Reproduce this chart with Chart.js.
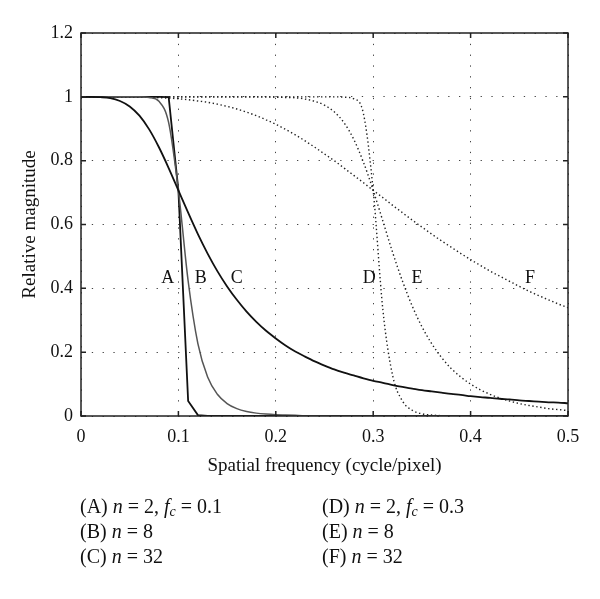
<!DOCTYPE html>
<html>
<head>
<meta charset="utf-8">
<script src="https://cdn.jsdelivr.net/npm/chart.js@4/dist/chart.umd.min.js"></script>
<style>
  html, body { margin: 0; padding: 0; background: #fff; }
  #wrap { position: relative; width: 600px; height: 599px; }
  canvas { position: absolute; left: 0; top: 0; }
  .leg { position: absolute; font-family: "Liberation Serif", "DejaVu Serif", serif; font-size: 20px; line-height: 25px; color: #111; white-space: nowrap; }
  .leg i { font-style: italic; }
  .leg sub { font-size: 14px; vertical-align: -3px; line-height: 0; font-style: italic; }
  .eq { padding: 0 5px; }
</style>
</head>
<body>
<div id="wrap">
  <canvas id="c" width="600" height="599"></canvas>
  <div class="leg" style="left:80px; top:494px;">
    (A) <i>n</i><span class="eq">=</span>2, <i>f</i><sub>c</sub><span class="eq">=</span>0.1<br>
    (B) <i>n</i><span class="eq">=</span>8<br>
    (C) <i>n</i><span class="eq">=</span>32
  </div>
  <div class="leg" style="left:322px; top:494px;">
    (D) <i>n</i><span class="eq">=</span>2, <i>f</i><sub>c</sub><span class="eq">=</span>0.3<br>
    (E) <i>n</i><span class="eq">=</span>8<br>
    (F) <i>n</i><span class="eq">=</span>32
  </div>
</div>
<script>
// Spatial frequency samples (cycle/pixel)
const freq = [0,0.01,0.02,0.03,0.04,0.05,0.06,0.07,0.08,0.09,0.10,0.11,0.12,0.13,0.14,0.15,0.16,0.17,0.18,0.19,0.20,
  0.21,0.22,0.23,0.24,0.25,0.26,0.27,0.28,0.29,0.30,0.31,0.32,0.33,0.34,0.35,0.36,0.37,0.38,0.39,0.40,
  0.41,0.42,0.43,0.44,0.45,0.46,0.47,0.48,0.49,0.50];

// Curve A (sharpest, cutoff 0.1)
const curveA = [1,1,1,1,1,1,1,1,1,0.999,0.707,0.047,0.003,0,0,0,0,0,0,0,0,
  0,0,0,0,0,0,0,0,0,0,0,0,0,0,0,0,0,0,0,0,
  0,0,0,0,0,0,0,0,0,0];
// Curve B (cutoff 0.1)
const curveB = [1,1,1,1,1,1,1,0.998,0.986,0.919,0.707,0.423,0.227,0.122,0.068,0.039,0.023,0.014,0.009,0.006,0.004,
  0.003,0.002,0.001,0.001,0.001,0,0,0,0,0,0,0,0,0,0,0,0,0,0,0,
  0,0,0,0,0,0,0,0,0,0];
// Curve C (smoothest, cutoff 0.1)
const curveC = [1,1,0.999,0.996,0.987,0.970,0.941,0.898,0.842,0.777,0.707,0.637,0.570,0.509,0.454,0.406,0.364,0.327,0.295,0.267,0.243,
  0.221,0.202,0.186,0.171,0.158,0.146,0.136,0.127,0.118,0.110,0.104,0.097,0.091,0.086,0.081,0.077,0.073,0.069,0.066,0.062,
  0.059,0.057,0.054,0.052,0.049,0.047,0.045,0.043,0.042,0.040];
// Curve D (sharpest, cutoff 0.3)
const curveD = [1,1,1,1,1,1,1,1,1,1,1,1,1,1,1,1,1,1,1,1,1,
  1,1,1,1,1,1,0.999,0.994,0.947,0.707,0.331,0.126,0.047,0.018,0.007,0.003,0.001,0,0,0,
  0,0,0,0,0,0,0,0,0,0];
// Curve E (cutoff 0.3)
const curveE = [1,1,1,1,1,1,1,1,1,1,1,1,1,1,1,1,1,1,1,1,0.999,
  0.998,0.997,0.993,0.986,0.974,0.953,0.919,0.867,0.795,0.707,0.610,0.512,0.423,0.345,0.280,0.227,0.184,0.149,0.122,0.100,
  0.082,0.068,0.056,0.047,0.039,0.033,0.028,0.023,0.020,0.017];
// Curve F (smoothest, cutoff 0.3)
const curveF = [1,1,1,1,1,1,0.999,0.999,0.997,0.996,0.994,0.991,0.987,0.983,0.977,0.970,0.962,0.952,0.941,0.928,0.914,
  0.898,0.881,0.862,0.842,0.821,0.800,0.777,0.754,0.731,0.707,0.684,0.660,0.637,0.614,0.592,0.570,0.549,0.529,0.509,0.490,
  0.472,0.454,0.438,0.422,0.406,0.391,0.377,0.364,0.351,0.339];

// In-plot curve labels
const labelText = ["A","B","C","D","E","F"];
const labelX = [0.089, 0.123, 0.160, 0.296, 0.345, 0.461];
const labelY = [0.433, 0.433, 0.433, 0.433, 0.433, 0.433];

const xTitle = "Spatial frequency (cycle/pixel)";
const yTitle = "Relative magnitude";

const FONT = '"Liberation Serif", "DejaVu Serif", serif';

function pts(ys) { return freq.map((x, i) => ({ x: x, y: ys[i] })); }

const solid = (data, color, w, smooth) => ({ data: pts(data), borderColor: color, borderWidth: w, pointRadius: 0,
  cubicInterpolationMode: smooth ? 'monotone' : 'default', tension: 0, fill: false });
const dotted = (data) => ({ data: pts(data), borderColor: '#222', borderWidth: 1.4, borderDash: [1.4, 2.6], pointRadius: 0,
  cubicInterpolationMode: 'monotone', fill: false });

const fmt = v => String(Math.round(v * 10) / 10);

const decor = {
  id: 'decor',
  afterDatasetsDraw(chart) {
    const { ctx, chartArea: a, scales: { x, y } } = chart;
    ctx.save();
    ctx.strokeStyle = '#222';
    ctx.lineWidth = 1.5;
    ctx.setLineDash([]);
    ctx.strokeRect(a.left, a.top, a.right - a.left, a.bottom - a.top);
    const L = 5;
    ctx.beginPath();
    x.ticks.forEach(t => {
      const px = x.getPixelForValue(t.value);
      ctx.moveTo(px, a.bottom); ctx.lineTo(px, a.bottom - L);
      ctx.moveTo(px, a.top); ctx.lineTo(px, a.top + L);
    });
    y.ticks.forEach(t => {
      const py = y.getPixelForValue(t.value);
      ctx.moveTo(a.left, py); ctx.lineTo(a.left + L, py);
      ctx.moveTo(a.right, py); ctx.lineTo(a.right - L, py);
    });
    ctx.stroke();
    // curve labels
    ctx.fillStyle = '#111';
    ctx.font = '18px ' + FONT;
    ctx.textAlign = 'center';
    ctx.textBaseline = 'middle';
    labelText.forEach((s, i) => {
      ctx.fillText(s, x.getPixelForValue(labelX[i]), y.getPixelForValue(labelY[i]));
    });
    // axis titles
    ctx.font = '19px ' + FONT;
    ctx.fillText(xTitle, (a.left + a.right) / 2, 466);
    ctx.translate(30, (a.top + a.bottom) / 2);
    ctx.rotate(-Math.PI / 2);
    ctx.fillText(yTitle, 0, 0);
    ctx.restore();
  }
};

new Chart(document.getElementById('c'), {
  type: 'line',
  data: {
    datasets: [
      solid(curveC, '#111', 1.8, true),
      solid(curveB, '#555', 1.5, true),
      solid(curveA, '#111', 1.8, false),
      dotted(curveD),
      dotted(curveE),
      dotted(curveF)
    ]
  },
  options: {
    responsive: false,
    animation: false,
    events: [],
    layout: { padding: { left: 0, right: 32, top: 33, bottom: 123 } },
    plugins: { legend: { display: false }, tooltip: { enabled: false } },
    scales: {
      x: {
        type: 'linear', min: 0, max: 0.5,
        afterFit: s => { s.height = 60; },
        ticks: { stepSize: 0.1, autoSkip: false, padding: 10, color: '#111', font: { family: FONT, size: 18 }, callback: fmt, maxRotation: 0 },
        grid: { color: '#444', lineWidth: 1, drawTicks: false },
        border: { display: false, dash: [1.3, 9.5] }
      },
      y: {
        type: 'linear', min: 0, max: 1.2,
        afterFit: s => { s.width = 81; },
        ticks: { stepSize: 0.2, autoSkip: false, padding: 8, color: '#111', font: { family: FONT, size: 18 }, callback: fmt },
        grid: { color: '#444', lineWidth: 1, drawTicks: false },
        border: { display: false, dash: [1.3, 9.5] }
      }
    }
  },
  plugins: [decor]
});
</script>
</body>
</html>
